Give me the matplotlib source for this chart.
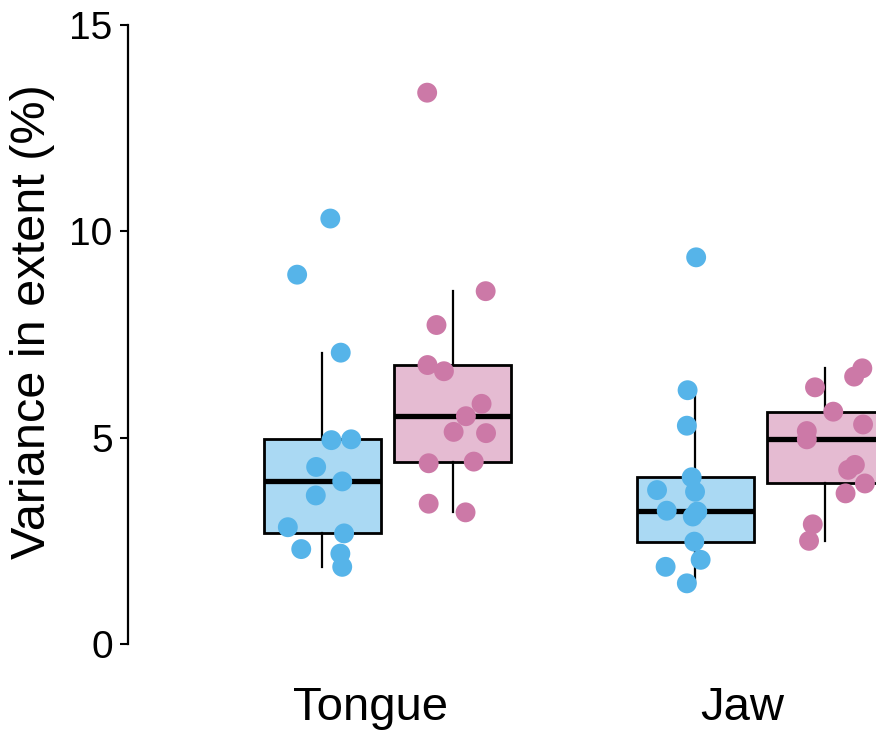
import numpy as np
import matplotlib.pyplot as plt
from matplotlib.colors import to_rgba

plt.rcParams['font.family'] = ['Liberation Sans', 'DejaVu Sans']

# --- data
groups = ['Tongue', 'Jaw']
series = ['blue', 'pink']
colors = {'blue': '#56B4E9', 'pink': '#CC79A7'}

tongue_blue = [10.31, 8.95, 7.06, 4.94, 4.96, 4.29, 3.94, 3.60, 2.83, 2.68, 2.30, 2.19, 1.87]
tongue_blue_jit = [0.021, -0.068, 0.049, 0.024, 0.077, -0.017, 0.053, -0.018, -0.093, 0.058, -0.057, 0.048, 0.053]
tongue_pink = [13.36, 8.55, 7.73, 6.76, 6.61, 5.82, 5.52, 5.14, 5.11, 4.38, 4.42, 3.40, 3.19]
tongue_pink_jit = [-0.069, 0.088, -0.044, -0.068, -0.024, 0.077, 0.035, 0.002, 0.089, -0.065, 0.056, -0.065, 0.034]
jaw_blue = [9.37, 6.15, 5.29, 4.04, 3.73, 3.69, 3.23, 3.21, 3.09, 2.48, 2.04, 1.87, 1.47]
jaw_blue_jit = [0.003, -0.020, -0.022, -0.009, -0.102, 0.000, -0.076, 0.006, -0.006, -0.002, 0.015, -0.079, -0.022]
jaw_pink = [6.68, 6.48, 6.22, 5.63, 5.32, 5.16, 4.96, 4.34, 4.22, 3.89, 3.65, 2.90, 2.50]
jaw_pink_jit = [0.099, 0.077, -0.028, 0.021, 0.101, -0.050, -0.050, 0.079, 0.061, 0.106, 0.054, -0.034, -0.044]

values = {('Tongue', 'blue'): (tongue_blue, tongue_blue_jit),
          ('Tongue', 'pink'): (tongue_pink, tongue_pink_jit),
          ('Jaw', 'blue'): (jaw_blue, jaw_blue_jit),
          ('Jaw', 'pink'): (jaw_pink, jaw_pink_jit)}

# --- layout
dodge = {'blue': -0.175, 'pink': 0.175}
box_w = 0.314

fig = plt.figure(figsize=(8.76, 7.34), dpi=100)
# axes runs past the right edge, the reference is cropped there
ax = fig.add_axes([128 / 876, 90 / 734, 899 / 876, 619 / 734])

for gi, g in enumerate(groups):
    for s in series:
        y, jit = values[(g, s)]
        pos = gi + 1 + dodge[s]
        bp = ax.boxplot([y], positions=[pos], widths=box_w, whis=1.5,
                        showfliers=False, patch_artist=True, showcaps=False,
                        manage_ticks=False, zorder=2)
        for b in bp['boxes']:
            b.set_facecolor(to_rgba(colors[s], 0.5))
            b.set_edgecolor('black')
            b.set_linewidth(2.0)
        for w in bp['whiskers']:
            w.set_color('black')
            w.set_linewidth(1.6)
        for m in bp['medians']:
            m.set_color('black')
            m.set_linewidth(3.8)
            m.set_solid_capstyle('butt')
        ax.scatter(pos + np.array(jit), y, s=205, color=colors[s],
                   edgecolors='none', zorder=3)

ax.set_ylim(0, 15)
ax.set_xlim(0.303, 2.716)
ax.set_yticks([0, 5, 10, 15])
ax.set_xticks([0.953, 1.953])
ax.set_xticklabels(groups)

ax.tick_params(axis='y', labelsize=28, length=6, width=1.5, pad=5)
ax.tick_params(axis='x', labelsize=34, length=0, pad=30)
ax.spines['left'].set_linewidth(1.6)
for sp in ['top', 'right', 'bottom']:
    ax.spines[sp].set_visible(False)

ax.set_ylabel('Variance in extent (%)', fontsize=35)
ax.yaxis.set_label_coords(-0.081, 0.52)

fig.savefig('out.png', dpi=100)
